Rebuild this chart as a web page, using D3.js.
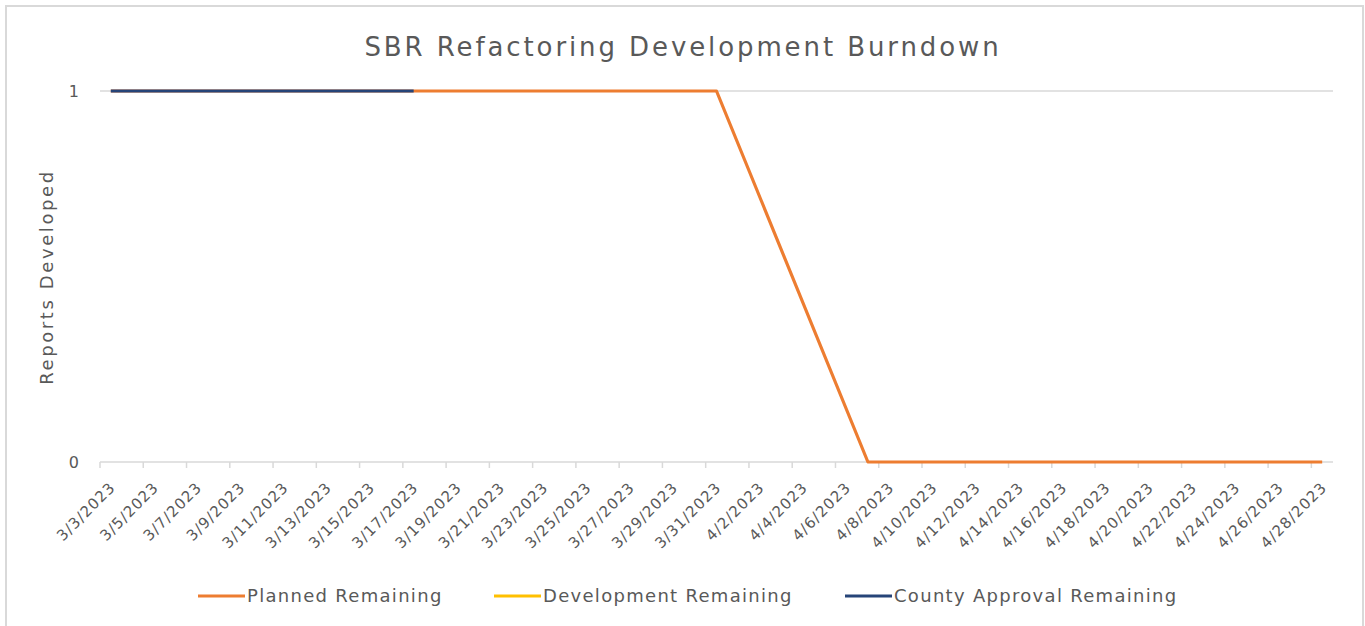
<!DOCTYPE html>
<html>
<head>
<meta charset="utf-8">
<script src="https://cdn.jsdelivr.net/npm/d3@7"></script>
<style>
  body { margin: 0; background: #fff; }
  svg { display: block; }
  text { font-family: 'DejaVu Sans', sans-serif; fill: #595959; }
</style>
</head>
<body>
<svg id="chart" width="1365" height="626"></svg>
<script>
// categories: one per day, 3/3/2023 .. 4/28/2023
const dates = d3.timeDay.range(new Date(2023, 2, 3), new Date(2023, 3, 29));
const fmt = d => (d.getMonth() + 1) + '/' + d.getDate() + '/' + d.getFullYear();

// planned: 1 through 3/31, 0 from 4/7 on; empty cells in between are joined
const plannedValues = dates.map(d => {
    if (d <= new Date(2023, 2, 31)) return 1;
    if (d >= new Date(2023, 3, 7)) return 0;
    return null;
});
// county approval: 1 through 3/17
const countyValues = dates.map(d => d <= new Date(2023, 2, 17) ? 1 : null);
// development remaining has no points in the picture
const developmentValues = dates.map(() => null);

const seriesNames = ['Planned Remaining', 'Development Remaining', 'County Approval Remaining'];
const seriesColors = ['#ED7D31', '#FFC000', '#264478'];
const yTicks = [0, 1];

const svg = d3.select('#chart');
const W = 1365, H = 626;

// outer chart border
svg.append('path')
    .attr('d', `M6,${H} L6,6 L1363,6 L1363,${H}`)
    .attr('fill', 'none')
    .attr('stroke', '#d9d9d9')
    .attr('stroke-width', 2);

const x = d3.scaleBand()
    .domain(dates)
    .range([100, 1333])
    .padding(0);
const y = d3.scaleLinear()
    .domain([0, 1])
    .range([462, 91]);

const cx = d => x(d) + x.bandwidth() / 2;

// title
svg.append('text')
    .attr('x', 683)
    .attr('y', 56)
    .attr('text-anchor', 'middle')
    .style('font-size', '26px')
    .style('letter-spacing', '2.9px')
    .text('SBR Refactoring Development Burndown');

// gridline at 1
svg.append('g')
    .selectAll('line')
    .data(yTicks.filter(t => t > 0))
    .join('line')
    .attr('x1', 100).attr('x2', 1333)
    .attr('y1', d => y(d)).attr('y2', d => y(d))
    .attr('stroke', '#d9d9d9')
    .attr('stroke-width', 1.5);

// y tick labels
svg.append('g')
    .selectAll('text')
    .data(yTicks)
    .join('text')
    .attr('x', 79)
    .attr('y', d => y(d))
    .attr('dy', '0.35em')
    .attr('text-anchor', 'end')
    .style('font-size', '16px')
    .text(d => d);

// y axis title
svg.append('text')
    .attr('transform', 'translate(53,277) rotate(-90)')
    .attr('text-anchor', 'middle')
    .style('font-size', '18px')
    .style('letter-spacing', '2.6px')
    .text('Reports Developed');

// x axis line + ticks every 2 categories at boundaries
const xAxis = svg.append('g');
xAxis.append('line')
    .attr('x1', 100).attr('x2', 1333)
    .attr('y1', 462).attr('y2', 462)
    .attr('stroke', '#d9d9d9')
    .attr('stroke-width', 1.5);
xAxis.selectAll('.tick')
    .data(dates.filter((d, i) => i % 2 === 0))
    .join('line')
    .attr('class', 'tick')
    .attr('x1', d => x(d)).attr('x2', d => x(d))
    .attr('y1', 462).attr('y2', 468)
    .attr('stroke', '#d9d9d9')
    .attr('stroke-width', 1.5);
xAxis.selectAll('.lbl')
    .data(dates.filter((d, i) => i % 2 === 0))
    .join('text')
    .attr('class', 'lbl')
    .attr('transform', d => `translate(${cx(d) - 2},${481}) rotate(-45)`)
    .attr('text-anchor', 'end')
    .attr('dy', '0.7em')
    .style('font-size', '15px')
    .style('letter-spacing', '1px')
    .text(fmt);

const line = d3.line()
    .x(d => cx(d.date))
    .y(d => y(d.value))
    .curve(d3.curveLinear);

const series = [plannedValues, developmentValues, countyValues].map((vals, i) => ({
    name: seriesNames[i],
    color: seriesColors[i],
    points: vals.map((v, j) => ({date: dates[j], value: v})).filter(p => p.value !== null)
}));

svg.append('g')
    .selectAll('path')
    .data(series.filter(s => s.points.length > 0))
    .join('path')
    .attr('d', s => line(s.points))
    .attr('fill', 'none')
    .attr('stroke', s => s.color)
    .attr('stroke-width', 3.2)
    .attr('stroke-linejoin', 'round');

// legend
const legendX = [198, 494, 845];
const legend = svg.append('g')
    .selectAll('g')
    .data(series)
    .join('g')
    .attr('transform', (d, i) => `translate(${legendX[i]},596)`);
legend.append('line')
    .attr('x1', 0).attr('x2', 47)
    .attr('stroke', d => d.color)
    .attr('stroke-width', 3.2);
legend.append('text')
    .attr('x', 49)
    .attr('dy', '0.35em')
    .style('font-size', '18px')
    .style('letter-spacing', '1.3px')
    .text(d => d.name);
</script>
</body>
</html>
